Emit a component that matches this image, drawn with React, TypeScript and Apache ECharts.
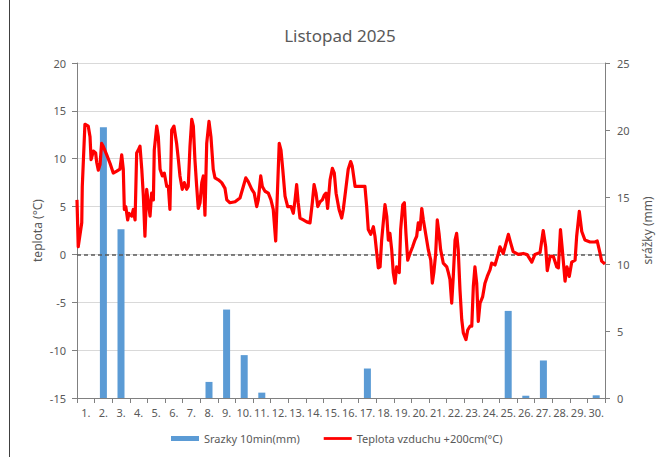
import React, { useEffect, useRef } from "react";
import * as echarts from "echarts";

const dayLabels = [
  "1.", "2.", "3.", "4.", "5.", "6.", "7.", "8.", "9.", "10.",
  "11.", "12.", "13.", "14.", "15.", "16.", "17.", "18.", "19.", "20.",
  "21.", "22.", "23.", "24.", "25.", "26.", "27.", "28.", "29.", "30.",
];

const precipMm = [
  0, 20.2, 12.6, 0, 0, 0, 0, 1.2, 6.6, 3.2,
  0.4, 0, 0, 0, 0, 0, 2.2, 0, 0, 0,
  0, 0, 0, 0, 6.5, 0.17, 2.8, 0, 0, 0.2,
];

// time in days since 1 Nov 00:00
const tempDay = [
  0.0, 0.07, 0.27, 0.30, 0.45, 0.64, 0.74, 0.80, 0.93, 1.06,
  1.12, 1.21, 1.31, 1.40, 1.49, 1.69, 1.88, 2.06, 2.26, 2.44,
  2.54, 2.63, 2.69, 2.77, 2.88, 2.95, 3.11, 3.20, 3.30, 3.39,
  3.48, 3.58, 3.68, 3.77, 3.86, 3.96, 4.05, 4.15, 4.24, 4.34,
  4.39, 4.53, 4.62, 4.72, 4.85, 4.96, 5.10, 5.19, 5.28, 5.38,
  5.51, 5.66, 5.76, 5.85, 5.98, 6.10, 6.23, 6.32, 6.42, 6.52,
  6.61, 6.70, 6.80, 6.89, 6.99, 7.09, 7.18, 7.27, 7.37, 7.50,
  7.61, 7.74, 7.84, 8.03, 8.22, 8.41, 8.51, 8.69, 8.98, 9.26,
  9.45, 9.59, 9.73, 9.93, 10.07, 10.21, 10.30, 10.44, 10.53, 10.68,
  10.87, 11.02, 11.15, 11.29, 11.38, 11.49, 11.59, 11.69, 11.82, 11.97,
  12.16, 12.29, 12.39, 12.48, 12.57, 12.67, 12.86, 13.05, 13.24, 13.37,
  13.47, 13.58, 13.68, 13.81, 13.94, 14.05, 14.15, 14.24, 14.38, 14.51,
  14.62, 14.72, 14.89, 15.04, 15.13, 15.27, 15.41, 15.55, 15.64, 15.80,
  15.98, 16.18, 16.36, 16.46, 16.55, 16.69, 16.84, 16.93, 17.12, 17.22,
  17.31, 17.40, 17.50, 17.60, 17.69, 17.78, 17.88, 17.97, 18.07, 18.16,
  18.31, 18.39, 18.51, 18.60, 18.69, 18.79, 18.92, 19.07, 19.20, 19.30,
  19.39, 19.49, 19.59, 19.68, 19.77, 19.96, 20.10, 20.19, 20.28, 20.38,
  20.47, 20.57, 20.66, 20.81, 21.01, 21.10, 21.19, 21.29, 21.38, 21.48,
  21.57, 21.66, 21.76, 21.86, 21.95, 22.10, 22.20, 22.33, 22.43, 22.52,
  22.61, 22.71, 22.80, 22.90, 23.05, 23.18, 23.31, 23.47, 23.56, 23.75,
  23.94, 24.03, 24.22, 24.51, 24.64, 24.78, 25.07, 25.36, 25.57, 25.84,
  26.02, 26.31, 26.49, 26.63, 26.72, 26.88, 27.06, 27.26, 27.35, 27.47,
  27.56, 27.73, 27.84, 27.97, 28.11, 28.30, 28.39, 28.54, 28.68, 28.86,
  29.15, 29.43, 29.56, 29.72, 29.81, 30.0,
];

const tempC = [
  5.7, 0.8, 3.3, 7.1, 13.6, 13.4, 12.3, 9.9, 10.8, 10.6,
  9.6, 8.8, 9.4, 11.6, 11.3, 10.4, 9.5, 8.5, 8.7, 8.9,
  10.4, 8.9, 4.7, 5.0, 3.6, 4.3, 4.0, 4.7, 3.6, 10.6,
  10.9, 11.3, 8.9, 6.1, 1.9, 6.8, 5.4, 4.0, 6.4, 5.7,
  10.9, 13.4, 12.3, 8.9, 8.2, 8.5, 7.1, 7.1, 4.7, 13.0,
  13.4, 11.6, 9.9, 8.2, 6.8, 7.5, 6.8, 7.1, 11.3, 14.1,
  13.4, 9.9, 7.1, 4.8, 5.4, 7.5, 8.2, 4.1, 11.6, 13.9,
  12.3, 8.9, 8.0, 7.8, 7.5, 6.9, 5.7, 5.4, 5.5, 5.9,
  7.1, 8.0, 7.6, 6.8, 6.4, 5.0, 5.7, 8.2, 7.1, 6.6,
  6.4, 5.7, 4.7, 1.4, 6.1, 11.6, 10.9, 8.9, 6.1, 5.0,
  5.0, 4.3, 5.7, 7.3, 5.4, 3.8, 3.6, 3.4, 3.3, 5.4,
  7.3, 6.4, 5.0, 5.5, 5.7, 6.2, 6.4, 4.8, 7.8, 9.0,
  8.5, 6.4, 4.7, 3.8, 4.7, 6.8, 8.9, 9.7, 9.2, 7.1,
  7.1, 7.1, 7.1, 5.0, 2.6, 2.1, 2.9, 1.9, -1.4, -1.3,
  1.5, 3.3, 5.2, 4.0, 1.5, 2.2, 0.5, -1.9, -3.0, -1.3,
  -1.9, 2.6, 5.2, 5.4, 2.2, -0.6, 0.1, 0.8, 1.5, 1.9,
  3.3, 2.6, 4.8, 3.6, 2.6, 0.5, -0.6, -3.0, -1.8, 0.1,
  3.6, 2.2, 0.5, -0.9, -1.3, -1.9, -2.6, -5.1, -2.3, 1.5,
  2.2, 0.5, -3.7, -6.8, -8.2, -8.9, -7.9, -7.5, -7.5, -3.3,
  -1.3, -3.0, -7.0, -5.1, -4.4, -3.0, -2.3, -1.6, -0.9, -1.1,
  0.1, 0.8, 0.1, 2.1, 1.2, 0.3, 0.0, 0.1, 0.0, -0.8,
  0.0, 0.2, 2.5, 0.8, -1.7, -0.2, -0.2, -1.3, -1.4, 2.6,
  0.8, -2.8, -1.3, -2.3, -0.8, -0.6, 1.9, 4.5, 2.4, 1.5,
  1.3, 1.3, 1.4, 0.1, -0.7, -1.0,
];

const tempTicks = { min: -15, max: 20, interval: 5 };
const precipTicks = { min: 0, max: 25, interval: 5 };

const FONT = "'Noto Sans', 'Open Sans', sans-serif";
const GRAY = "#595959";

export default function App() {
  const ref = useRef<HTMLDivElement>(null);

  useEffect(() => {
    if (!ref.current) return;
    const chart = echarts.init(ref.current, undefined, { renderer: "svg" });
    const tempData = tempDay.map((d, i) => [d, tempC[i]]);

    chart.setOption({
      animation: false,
      backgroundColor: "#ffffff",
      textStyle: { fontFamily: FONT },
      title: {
        text: "Listopad 2025",
        left: 335,
        textAlign: "center",
        top: 22,
        textStyle: { fontFamily: FONT, fontSize: 17, fontWeight: "normal", color: GRAY },
      },
      legend: {
        bottom: 8,
        left: 166,
        itemWidth: 28,
        itemHeight: 5,
        itemGap: 24,
        textStyle: { fontFamily: FONT, fontSize: 11, color: GRAY },
        data: [
          { name: "Srazky 10min(mm)", icon: "rect" },
          { name: "Teplota vzduchu +200cm(°C)", icon: "path://M0,0h30v3h-30z" },
        ],
      },
      grid: {
        left: 77,
        right: 52,
        top: 63,
        bottom: 59,
        containLabel: false,
        outerBoundsMode: "none",
      },
      xAxis: [
        {
          type: "category",
          data: dayLabels,
          boundaryGap: true,
          axisLine: { show: true, onZero: false, lineStyle: { color: "#808080" } },
          axisTick: { show: true, interval: 0, length: 5, lineStyle: { color: "#808080" } },
          axisLabel: { interval: 0, color: GRAY, fontSize: 11, margin: 9, fontFamily: FONT },
          splitLine: { show: false },
        },
        {
          type: "value",
          min: 0,
          max: 30,
          show: false,
          position: "bottom",
          axisLine: { onZero: false },
        },
      ],
      yAxis: [
        {
          type: "value",
          min: tempTicks.min,
          max: tempTicks.max,
          interval: tempTicks.interval,
          name: "teplota (°C)",
          nameLocation: "middle",
          nameRotate: 90,
          nameGap: 34,
          nameMoveOverlap: false,
          nameTextStyle: { color: GRAY, fontSize: 12, fontFamily: FONT },
          axisLine: { show: true, onZero: false, lineStyle: { color: "#808080" } },
          axisTick: { show: true, length: 5, lineStyle: { color: "#808080" } },
          axisLabel: { color: GRAY, fontSize: 11, margin: 11, fontFamily: FONT },
          splitLine: { show: true, lineStyle: { color: "#d9d9d9", width: 1 } },
        },
        {
          type: "value",
          min: precipTicks.min,
          max: precipTicks.max,
          interval: precipTicks.interval,
          position: "right",
          name: "srážky (mm)",
          nameLocation: "middle",
          nameRotate: 90,
          nameGap: 36,
          nameMoveOverlap: false,
          nameTextStyle: { color: GRAY, fontSize: 12, fontFamily: FONT },
          axisLine: { show: true, onZero: false, lineStyle: { color: "#808080" } },
          axisTick: { show: true, length: 5, lineStyle: { color: "#808080" } },
          axisLabel: { color: GRAY, fontSize: 11, margin: 12, fontFamily: FONT },
          splitLine: { show: false },
        },
      ],
      graphic: [
        {
          type: "line",
          shape: { x1: 9.5, y1: 0, x2: 9.5, y2: 457 },
          style: { stroke: "#404040", lineWidth: 1 },
          silent: true,
        },
      ],
      series: [
        {
          name: "Srazky 10min(mm)",
          type: "bar",
          xAxisIndex: 0,
          yAxisIndex: 1,
          data: precipMm,
          barWidth: 7,
          itemStyle: { color: "#5b9bd5" },
          z: 2,
        },
        {
          name: "Teplota vzduchu +200cm(°C)",
          type: "line",
          xAxisIndex: 1,
          yAxisIndex: 0,
          data: tempData,
          showSymbol: false,
          symbol: "none",
          lineStyle: { color: "#ff0000", width: 3.2, join: "round" },
          itemStyle: { color: "#ff0000" },
          z: 4,
          markLine: {
            silent: true,
            symbol: "none",
            label: { show: false },
            lineStyle: { color: "#595959", type: [4, 3], width: 1.5 },
            data: [{ yAxis: 0 }],
            z: 3,
          },
        },
      ],
    });

    return () => chart.dispose();
  }, []);

  return (
    <div
      ref={ref}
      style={{ position: "absolute", left: 0, top: 0, width: 657, height: 457 }}
    />
  );
}
